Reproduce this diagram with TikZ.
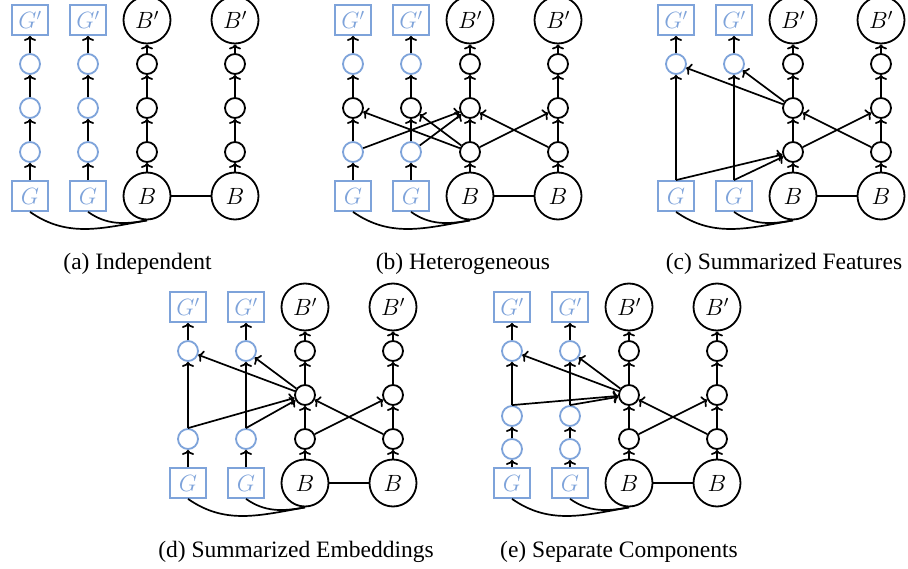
\RequirePackage{fix-cm}
\documentclass[tikz,border=0pt]{standalone}
\usepackage{fontspec}
\setmainfont{Liberation Serif}
\usetikzlibrary{arrows.meta}
\definecolor{gblue}{RGB}{126,163,218}
\tikzset{
  every node/.style={inner sep=0pt, font=\fontsize{23.5}{26}\selectfont},
  gbox/.style={draw=gblue, text=gblue, line width=1.8pt, minimum width=36pt, minimum height=30pt},
  bbig/.style={circle, draw, line width=1.8pt, minimum size=47pt},
  sm/.style={circle, draw, line width=1.8pt, minimum size=20pt},
  smb/.style={sm, draw=gblue},
  arr/.style={line width=1.7pt, -{To[length=5pt,width=12pt]}},
  ln/.style={line width=1.7pt},
  captext/.style={anchor=base, font=\fontsize{23.5}{28}\selectfont}
}
\newcommand{\basepanel}[1]{%
  \node[gbox] (#1Gp1) at (0,0) {$G'$};
  \node[gbox] (#1Gp2) at (58,0) {$G'$};
  \node[bbig] (#1Bp1) at (117,0) {$B'$};
  \node[bbig] (#1Bp2) at (205,0) {$B'$};
  \node[gbox] (#1G1) at (0,176) {$G$};
  \node[gbox] (#1G2) at (58,176) {$G$};
  \node[bbig] (#1B1) at (117,176) {$B$};
  \node[bbig] (#1B2) at (205,176) {$B$};
  \draw[ln] (#1B1) -- (#1B2);
  \draw[ln] (#1G1.south) to[out=-35,in=190] (#1B1.south);
  \draw[ln] (#1G2.south) to[out=-35,in=190] (#1B1.south);
}
\begin{document}
\begin{tikzpicture}[x=1pt,y=-1pt]
\useasboundingbox (0,0) rectangle (908,569);

% ---------- (a) Independent ----------
\begin{scope}[shift={(30,20)}]
  \basepanel{a}
  \node[smb] (a11) at (0,44) {}; \node[smb] (a12) at (58,44) {};
  \node[sm] (a13) at (117,44) {}; \node[sm] (a14) at (205,44) {};
  \node[smb] (a21) at (0,88) {}; \node[smb] (a22) at (58,88) {};
  \node[sm] (a23) at (117,88) {}; \node[sm] (a24) at (205,88) {};
  \node[smb] (a31) at (0,132) {}; \node[smb] (a32) at (58,132) {};
  \node[sm] (a33) at (117,132) {}; \node[sm] (a34) at (205,132) {};
  \draw[arr] (aG1) -- (a31); \draw[arr] (a31) -- (a21); \draw[arr] (a21) -- (a11); \draw[arr] (a11) -- (aGp1);
  \draw[arr] (aG2) -- (a32); \draw[arr] (a32) -- (a22); \draw[arr] (a22) -- (a12); \draw[arr] (a12) -- (aGp2);
  \draw[arr] (aB1) -- (a33); \draw[arr] (a33) -- (a23); \draw[arr] (a23) -- (a13); \draw[arr] (a13) -- (aBp1);
  \draw[arr] (aB2) -- (a34); \draw[arr] (a34) -- (a24); \draw[arr] (a24) -- (a14); \draw[arr] (a14) -- (aBp2);
\end{scope}
\node[captext] (capa) at (137.5,270) {(a) Independent};

% ---------- (b) Heterogeneous ----------
\begin{scope}[shift={(353,20)}]
  \basepanel{b}
  \node[smb] (b11) at (0,44) {}; \node[smb] (b12) at (58,44) {};
  \node[sm] (b13) at (117,44) {}; \node[sm] (b14) at (205,44) {};
  \node[sm] (b21) at (0,88) {}; \node[sm] (b22) at (58,88) {};
  \node[sm] (b23) at (117,88) {}; \node[sm] (b24) at (205,88) {};
  \node[smb] (b31) at (0,132) {}; \node[smb] (b32) at (58,132) {};
  \node[sm] (b33) at (117,132) {}; \node[sm] (b34) at (205,132) {};
  \draw[arr] (bG1) -- (b31); \draw[arr] (b31) -- (b21); \draw[arr] (b21) -- (b11); \draw[arr] (b11) -- (bGp1);
  \draw[arr] (bG2) -- (b32); \draw[arr] (b32) -- (b22); \draw[arr] (b22) -- (b12); \draw[arr] (b12) -- (bGp2);
  \draw[arr] (bB1) -- (b33); \draw[arr] (b33) -- (b23); \draw[arr] (b23) -- (b13); \draw[arr] (b13) -- (bBp1);
  \draw[arr] (bB2) -- (b34); \draw[arr] (b34) -- (b24); \draw[arr] (b24) -- (b14); \draw[arr] (b14) -- (bBp2);
  \draw[arr] (b31) -- (b23); \draw[arr] (b32) -- (b23);
  \draw[arr] (b33) -- (b21); \draw[arr] (b33) -- (b22); \draw[arr] (b33) -- (b24);
  \draw[arr] (b34) -- (b23);
\end{scope}
\node[captext] (capb) at (463,270) {(b) Heterogeneous};

% ---------- (c) Summarized Features ----------
\begin{scope}[shift={(676,20)}]
  \basepanel{c}
  \node[smb] (c11) at (0,44) {}; \node[smb] (c12) at (58,44) {};
  \node[sm] (c13) at (117,44) {}; \node[sm] (c14) at (205,44) {};
  \node[sm] (c23) at (117,88) {}; \node[sm] (c24) at (205,88) {};
  \node[sm] (c33) at (117,132) {}; \node[sm] (c34) at (205,132) {};
  \draw[arr] (cG1) -- (c11); \draw[arr] (c11) -- (cGp1);
  \draw[arr] (cG2) -- (c12); \draw[arr] (c12) -- (cGp2);
  \draw[arr] (cB1) -- (c33); \draw[arr] (c33) -- (c23); \draw[arr] (c23) -- (c13); \draw[arr] (c13) -- (cBp1);
  \draw[arr] (cB2) -- (c34); \draw[arr] (c34) -- (c24); \draw[arr] (c24) -- (c14); \draw[arr] (c14) -- (cBp2);
  \draw[arr] (cG1.north) -- (c33); \draw[arr] (cG2.north) -- (c33);
  \draw[arr] (c23) -- (c11); \draw[arr] (c23) -- (c12);
  \draw[arr] (c33) -- (c24); \draw[arr] (c34) -- (c23);
\end{scope}
\node[captext] (capc) at (784,270) {(c) Summarized Features};

% ---------- (d) Summarized Embeddings ----------
\begin{scope}[shift={(188,307)}]
  \basepanel{d}
  \node[smb] (d11) at (0,44) {}; \node[smb] (d12) at (58,44) {};
  \node[sm] (d13) at (117,44) {}; \node[sm] (d14) at (205,44) {};
  \node[sm] (d23) at (117,88) {}; \node[sm] (d24) at (205,88) {};
  \node[smb] (d31) at (0,132) {}; \node[smb] (d32) at (58,132) {};
  \node[sm] (d33) at (117,132) {}; \node[sm] (d34) at (205,132) {};
  \draw[arr] (dG1) -- (d31); \draw[arr] (d31) -- (d11); \draw[arr] (d11) -- (dGp1);
  \draw[arr] (dG2) -- (d32); \draw[arr] (d32) -- (d12); \draw[arr] (d12) -- (dGp2);
  \draw[arr] (dB1) -- (d33); \draw[arr] (d33) -- (d23); \draw[arr] (d23) -- (d13); \draw[arr] (d13) -- (dBp1);
  \draw[arr] (dB2) -- (d34); \draw[arr] (d34) -- (d24); \draw[arr] (d24) -- (d14); \draw[arr] (d14) -- (dBp2);
  \draw[arr] (d31.north) -- (d23); \draw[arr] (d32.north) -- (d23);
  \draw[arr] (d23) -- (d11); \draw[arr] (d23) -- (d12);
  \draw[arr] (d33) -- (d24); \draw[arr] (d34) -- (d23);
\end{scope}
\node[captext] (capd) at (296,557) {(d) Summarized Embeddings};

% ---------- (e) Separate Components ----------
\begin{scope}[shift={(512,307)}]
  \basepanel{e}
  \node[smb] (e11) at (0,44) {}; \node[smb] (e12) at (58,44) {};
  \node[sm] (e13) at (117,44) {}; \node[sm] (e14) at (205,44) {};
  \node[sm] (e23) at (117,88) {}; \node[sm] (e24) at (205,88) {};
  \node[sm] (e33) at (117,132) {}; \node[sm] (e34) at (205,132) {};
  \node[smb] (eu1) at (0,109) {}; \node[smb] (eu2) at (58,109) {};
  \node[smb] (el1) at (0,142) {}; \node[smb] (el2) at (58,142) {};
  \draw[arr] (eG1) -- (el1); \draw[arr] (el1) -- (eu1); \draw[arr] (eu1) -- (e11); \draw[arr] (e11) -- (eGp1);
  \draw[arr] (eG2) -- (el2); \draw[arr] (el2) -- (eu2); \draw[arr] (eu2) -- (e12); \draw[arr] (e12) -- (eGp2);
  \draw[arr] (eB1) -- (e33); \draw[arr] (e33) -- (e23); \draw[arr] (e23) -- (e13); \draw[arr] (e13) -- (eBp1);
  \draw[arr] (eB2) -- (e34); \draw[arr] (e34) -- (e24); \draw[arr] (e24) -- (e14); \draw[arr] (e14) -- (eBp2);
  \draw[arr] (eu1.north) -- (e23); \draw[arr] (eu2.north) -- (e23);
  \draw[arr] (e23) -- (e11); \draw[arr] (e23) -- (e12);
  \draw[arr] (e33) -- (e24); \draw[arr] (e34) -- (e23);
\end{scope}
\node[captext] (cape) at (619,557) {(e) Separate Components};
\end{tikzpicture}
\end{document}
